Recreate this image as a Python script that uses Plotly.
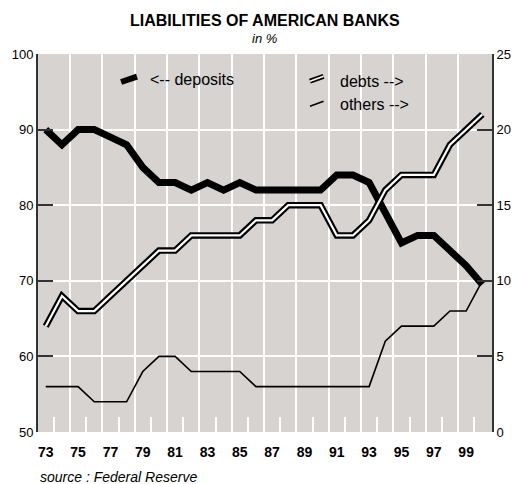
import plotly.graph_objects as go

# years 1973..2000, shown as 73..99
years = list(range(73, 101))
year_labels = ["73", "75", "77", "79", "81", "83", "85", "87", "89", "91", "93", "95", "97", "99"]
year_label_pos = [73, 75, 77, 79, 81, 83, 85, 87, 89, 91, 93, 95, 97, 99]

# deposits, % (left axis)
deposits = [90, 88, 90, 90, 89, 88, 85, 83, 83, 82, 83, 82, 83, 82,
            82, 82, 82, 82, 84, 84, 83, 79, 75, 76, 76, 74, 72, 69.5]
# debts, % (right axis)
debts = [7, 9, 8, 8, 9, 10, 11, 12, 12, 13, 13, 13, 13, 14,
         14, 15, 15, 15, 13, 13, 14, 16, 17, 17, 17, 19, 20, 21]
# others, % (right axis)
others = [3, 3, 3, 2, 2, 2, 4, 5, 5, 4, 4, 4, 4, 3,
          3, 3, 3, 3, 3, 3, 3, 6, 7, 7, 7, 8, 8, 10]

grid_pos = [74.5 + 2 * i for i in range(13)]
short_tick_pos = [73.5 + 2 * i for i in range(14)]

FONT = "Liberation Sans, Arial, Helvetica, sans-serif"
XR = [72.52, 100.6]

fig = go.Figure()

# debts: double line = thick black + thin white core
fig.add_trace(go.Scatter(x=years, y=debts, yaxis="y2", mode="lines",
                         line=dict(color="black", width=6.5), hoverinfo="skip"))
fig.add_trace(go.Scatter(x=years, y=debts, yaxis="y2", mode="lines",
                         line=dict(color="white", width=2.2), hoverinfo="skip"))
fig.add_trace(go.Scatter(x=years, y=others, yaxis="y2", mode="lines",
                         line=dict(color="black", width=1.6)))
fig.add_trace(go.Scatter(x=years, y=deposits, mode="lines",
                         line=dict(color="black", width=7)))

ann = [
    dict(text="<b>LIABILITIES OF AMERICAN BANKS</b>", x=0.499, y=1.089,
         font=dict(size=16)),
    dict(text="<i>in %</i>", x=0.499, y=1.042, font=dict(size=13)),
    dict(text="<i>source : Federal Reserve</i>", x=0.0, y=-0.119,
         xanchor="left", font=dict(size=14)),
    dict(text="<-- deposits", x=0.243, y=0.932, xanchor="left", font=dict(size=16)),
    dict(text="debts -->", x=0.661, y=0.928, xanchor="left", font=dict(size=16)),
    dict(text="others -->", x=0.661, y=0.866, xanchor="left", font=dict(size=16)),
]
for a in ann:
    a.setdefault("xanchor", "center")
    a.update(xref="paper", yref="paper", showarrow=False, yanchor="middle")
    a["font"].update(family=FONT, color="black")

shapes = [
    dict(type="line", xref="paper", yref="paper", x0=0.183, y0=0.926, x1=0.218, y1=0.940,
         line=dict(color="black", width=6)),
    dict(type="line", xref="paper", yref="paper", x0=0.599, y0=0.928, x1=0.629, y1=0.941,
         line=dict(color="black", width=5)),
    dict(type="line", xref="paper", yref="paper", x0=0.599, y0=0.928, x1=0.629, y1=0.941,
         line=dict(color="white", width=1.5)),
    dict(type="line", xref="paper", yref="paper", x0=0.599, y0=0.862, x1=0.629, y1=0.875,
         line=dict(color="black", width=1.6)),
]

fig.update_layout(
    width=523, height=484,
    margin=dict(l=36, r=18, t=54, b=52),
    paper_bgcolor="white",
    plot_bgcolor="#d6d3d0",
    showlegend=False,
    font=dict(family=FONT, size=13, color="black"),
    annotations=ann,
    shapes=shapes,
    xaxis=dict(range=XR, tickmode="array", tickvals=year_label_pos, ticktext=year_labels,
               showgrid=False, zeroline=False, ticks="", showline=False,
               tickfont=dict(size=14, family=FONT, weight="bold"), ticklabelstandoff=10),
    xaxis2=dict(range=XR, overlaying="x", tickmode="array", tickvals=grid_pos,
                showgrid=True, gridcolor="white", gridwidth=2, showticklabels=False,
                ticks="", zeroline=False),
    xaxis3=dict(range=XR, overlaying="x", tickmode="array", tickvals=short_tick_pos,
                showgrid=False, showticklabels=False, ticks="inside", ticklen=15,
                tickwidth=2, tickcolor="white", zeroline=False),
    yaxis=dict(range=[50, 100], dtick=10, tick0=50, showgrid=True, gridcolor="white",
               gridwidth=2, ticks="inside", ticklen=15, tickwidth=2, tickcolor="#333",
               showline=True, linecolor="#333", linewidth=2, zeroline=False,
               tickfont=dict(size=13)),
    yaxis2=dict(range=[0, 25], dtick=5, tick0=0, overlaying="y", side="right",
                showgrid=False, ticks="inside", ticklen=15, tickwidth=2, tickcolor="#333",
                showline=True, linecolor="#333", linewidth=2, zeroline=False,
                tickfont=dict(size=13)),
)

# dummy traces to make the overlay axes render
fig.add_trace(go.Scatter(x=[None], y=[None], xaxis="x2", showlegend=False))
fig.add_trace(go.Scatter(x=[None], y=[None], xaxis="x3", showlegend=False))

# page body has a default 8px margin, drop it so the figure fills the window
fig.write_html("out.html", config={"displayModeBar": False},
               post_script="document.body.style.margin='0';")
